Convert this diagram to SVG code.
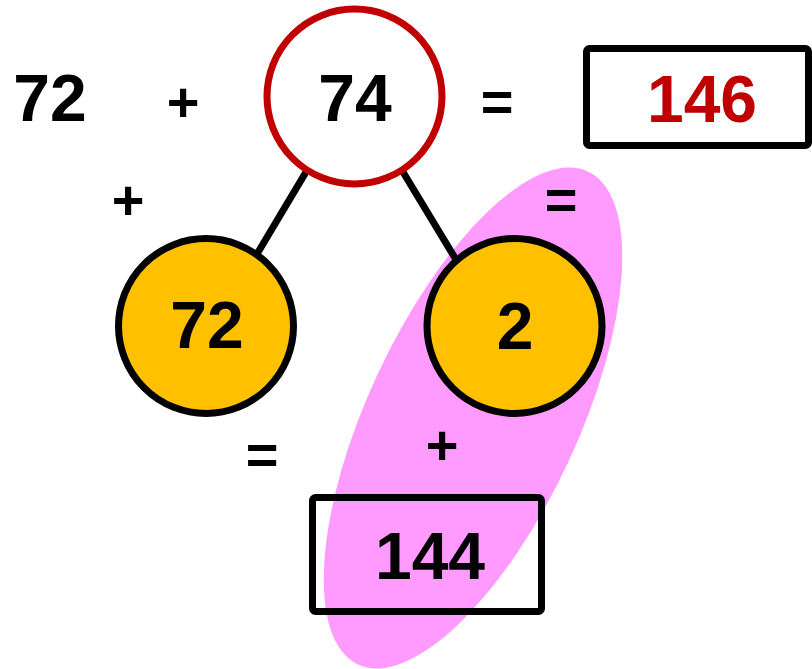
<svg xmlns="http://www.w3.org/2000/svg" width="812" height="669" viewBox="0 0 812 669">
<style>
.num{font-family:"Liberation Sans",Arial,sans-serif;font-weight:bold;font-size:66px;text-anchor:middle;fill:#000}
.op{font-family:"Liberation Sans",Arial,sans-serif;font-weight:bold;font-size:56px;text-anchor:middle;fill:#000}
.red{fill:#C00000}
.child{fill:#FFC000;stroke:#000;stroke-width:7}
.box{fill:none;stroke:#000;stroke-width:7}
.conn{stroke:#000;stroke-width:7;fill:none}
</style>
<rect width="812" height="669" fill="#fff"/>
<ellipse id="highlight" cx="473" cy="418" rx="272" ry="105" transform="rotate(-65 473 418)" fill="#FF9BFF"/>
<g id="connectors">
<line class="conn" x1="306" y1="172" x2="257" y2="254"/>
<line class="conn" x1="403" y1="172" x2="455" y2="258"/>
</g>
<g id="n72">
<text class="num" x="50" y="121">72</text>
</g>
<g id="plus1"><text class="op" x="183" y="121">+</text></g>
<g id="n74">
<circle cx="354.5" cy="96.5" r="87.5" fill="#fff" stroke="#C00000" stroke-width="7"/>
<text class="num" x="355" y="121">74</text>
</g>
<g id="eq1"><text class="op" x="497" y="121">=</text></g>
<g id="n146">
<rect class="box" x="586.5" y="48.5" width="222" height="97" rx="3"/>
<text class="num red" x="702" y="122">146</text>
</g>
<g id="plus2"><text class="op" x="128" y="219">+</text></g>
<g id="eq2"><text class="op" x="561" y="219">=</text></g>
<g id="c72">
<circle class="child" cx="206" cy="326" r="87.5"/>
<text class="num" x="207" y="348">72</text>
</g>
<g id="c2">
<circle class="child" cx="514.5" cy="326" r="87.5"/>
<text class="num" x="515" y="349">2</text>
</g>
<g id="eq3"><text class="op" x="262" y="474">=</text></g>
<g id="plus3"><text class="op" x="442" y="464">+</text></g>
<g id="n144">
<rect class="box" x="312.5" y="497.5" width="229" height="114" rx="3"/>
<text class="num" x="430" y="579">144</text>
</g>
</svg>
